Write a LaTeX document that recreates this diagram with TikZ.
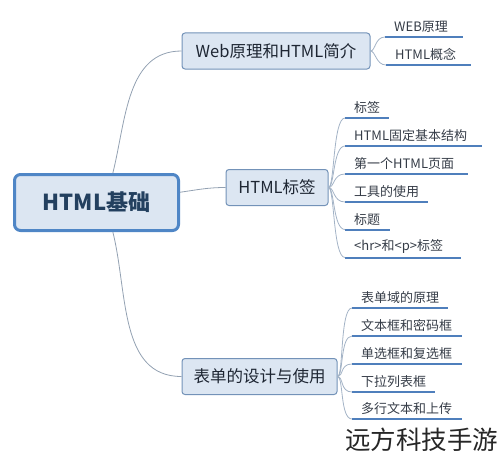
\documentclass[tikz,border=0pt]{standalone}
\usepackage{fontspec}
\setmainfont{Noto Sans CJK SC}
\usepackage{tikz}
\usetikzlibrary{positioning}

\definecolor{boxfill}{HTML}{DCE6F2}
\definecolor{rootline}{HTML}{4F86C6}
\definecolor{boxline}{HTML}{7392B8}
\definecolor{rootink}{HTML}{23405F}
\definecolor{ink}{HTML}{1E2633}
\definecolor{uline}{HTML}{4F7FBC}
\definecolor{link}{HTML}{A3B3C6}

\begin{document}
\begin{tikzpicture}[
    x=1pt, y=-1pt,
    rootbox/.style={rectangle, draw=rootline, line width=3pt, rounded corners=6pt,
                    fill=boxfill, minimum width=164pt, minimum height=56pt,
                    font=\fontsize{22}{24}\selectfont\bfseries, text=rootink},
    branchbox/.style={rectangle, draw=boxline, line width=1pt, rounded corners=3pt,
                      fill=boxfill, minimum height=36pt, inner xsep=4pt,
                      font=\fontsize{16.5}{18}\selectfont, text=ink},
    leaf/.style={anchor=south west, inner xsep=9pt, inner ysep=4pt,
                 font=\fontsize{13}{15}\selectfont, text=ink!90},
    mainlink/.style={draw=link!90!black, line width=0.8pt},
    leaflink/.style={draw=link, line width=0.8pt},
    underline/.style={draw=uline, line width=2pt}
]
    \useasboundingbox (0,0) rectangle (500,460);

    % === Root ===
    \node[rootbox] (root) at (96.5,202.5) {HTML基础};

    % === Branches ===
    \node[branchbox, minimum width=188pt] (web) at (276,51) {Web原理和HTML简介};
    \node[branchbox, minimum width=102pt] (tag) at (277,187.5) {HTML标签};
    \node[branchbox, minimum width=155pt] (form) at (259.5,376.5) {表单的设计与使用};

    \draw[mainlink] (root.61) to[out=76, in=180] (web.west);
    \draw[mainlink] (root.7) to[out=8, in=180] (tag.west);
    \draw[mainlink] (root.-61) to[out=-76, in=180] (form.west);

    % === Leaves of Web ===
    \node[leaf] (web1) at (385,37) {WEB原理};
    \node[leaf] (web2) at (386,65) {HTML概念};

    % === Leaves of HTML tags ===
    \node[leaf] (tag1) at (345,118) {标签};
    \node[leaf] (tag2) at (345,146) {HTML固定基本结构};
    \node[leaf] (tag3) at (345,174) {第一个HTML页面};
    \node[leaf] (tag4) at (345,202) {工具的使用};
    \node[leaf] (tag5) at (345,229.5) {标题};
    \node[leaf] (tag6) at (345,257.5) {<hr>和<p>标签};

    % === Leaves of forms ===
    \node[leaf] (form1) at (352,308) {表单域的原理};
    \node[leaf] (form2) at (352,336) {文本框和密码框};
    \node[leaf] (form3) at (352,364) {单选框和复选框};
    \node[leaf] (form4) at (352,392) {下拉列表框};
    \node[leaf] (form5) at (352,419) {多行文本和上传};

    % Underlines (latin text runs a little wider in the original)
    \foreach \n/\e in {web1/6,web2/6,tag1/0,tag2/6,tag3/5,tag4/0,tag5/1,tag6/9,
                       form1/0,form2/1,form3/1,form4/0,form5/1}
        \draw[underline] (\n.south west) -- ([xshift=\e pt]\n.south east);

    % Links to leaves
    \foreach \n in {web1,web2}
        \draw[leaflink] (web.east) .. controls +(5,0) and +(-10,0) .. (\n.south west);
    \foreach \n in {tag1,tag2,tag3,tag4,tag5,tag6}
        \draw[leaflink] (tag.east) .. controls +(6,0) and +(-12,0) .. (\n.south west);
    \foreach \n in {form1,form2,form3,form4,form5}
        \draw[leaflink] (form.east) .. controls +(6,0) and +(-12,0) .. (\n.south west);

    % Watermark
    \node[font=\fontsize{25.5}{27}\selectfont, text=black!85, inner sep=0pt] (mark) at (421.5,440) {远方科技手游};
\end{tikzpicture}
\end{document}
